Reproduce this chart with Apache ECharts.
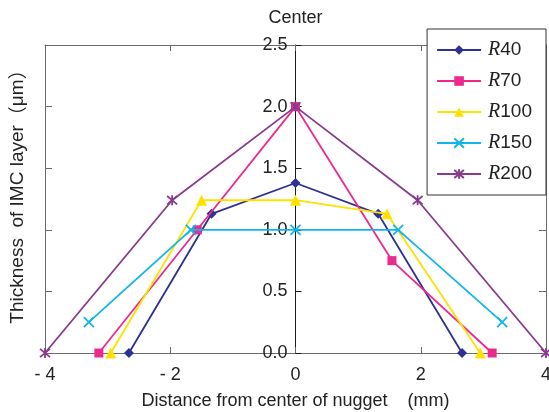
<!DOCTYPE html>
<html>
<head>
<meta charset="utf-8">
<script src="https://cdn.jsdelivr.net/npm/echarts@6/dist/echarts.min.js"></script>
<style>
  html, body { margin: 0; padding: 0; background: #fff; }
  #chart { width: 549px; height: 412px; }
</style>
</head>
<body>
<div id="chart"></div>
<script>
// Measured IMC layer thickness (µm) vs. distance from nugget centre (mm)
const seriesNames = ['R40', 'R70', 'R100', 'R150', 'R200'];

const r40X = [-2.66, -1.34, 0, 1.32, 2.66];
const r40Y = [0, 1.13, 1.38, 1.13, 0];

const r70X = [-3.14, -1.57, 0, 1.54, 3.14];
const r70Y = [0, 1.0, 2.0, 0.75, 0];

const r100X = [-2.95, -1.50, 0, 1.46, 2.95];
const r100Y = [0, 1.24, 1.24, 1.13, 0];

const r150X = [-3.3, -1.67, 0, 1.64, 3.3];
const r150Y = [0.25, 1.0, 1.0, 1.0, 0.25];

const r200X = [-4, -1.97, 0, 1.95, 4];
const r200Y = [0, 1.24, 2.0, 1.24, 0];

const xTickValues = [-4, -2, 0, 2, 4];
const xTickLabels = ['- 4', '- 2', '0', '2', '4'];
const yTickLabels = ['0.0', '0.5', '1.0', '1.5', '2.0', '2.5'];

const yTitleText = 'Thickness  of IMC layer';
const yTitleUnit = 'μm';
const xTitle = 'Distance from center of nugget    (mm)';

const colors = ['#2e3192', '#ec2a8e', '#ffe100', '#12b5ea', '#8a3a8e'];
const symbols = [
  'diamond',
  'rect',
  'triangle',
  'path://M0,0L10,10M10,0L0,10',
  'path://M0,0L10,10M10,0L0,10M5,-1L5,11'
];
const symbolSizes = [10, 9, 11, 10, 10];
const strokeSymbol = [false, false, false, true, true];

const xs = [r40X, r70X, r100X, r150X, r200X];
const ys = [r40Y, r70Y, r100Y, r150Y, r200Y];

const FONT = '"Liberation Sans", Arial, sans-serif';
const CJK_FONT = '"Noto Sans CJK SC", "Noto Sans CJK JP", sans-serif';
const frameColor = '#6b6b6b';

// plot box geometry
const PLOT_LEFT = 45, PLOT_RIGHT = 3, PLOT_TOP = 45, PLOT_BOTTOM = 59;
const CHART_W = 549;
const centerX = PLOT_LEFT + (CHART_W - PLOT_LEFT - PLOT_RIGHT) / 2;

function pairs(xArr, yArr) {
  return xArr.map((x, i) => [x, yArr[i]]);
}

const series = seriesNames.map((name, k) => ({
  name: name,
  type: 'line',
  xAxisIndex: 0,
  yAxisIndex: 0,
  data: pairs(xs[k], ys[k]),
  symbol: symbols[k],
  symbolSize: symbolSizes[k],
  showAllSymbol: true,
  lineStyle: { color: colors[k], width: 1.8 },
  itemStyle: strokeSymbol[k]
    ? { color: colors[k], borderColor: colors[k], borderWidth: 1.8 }
    : { color: colors[k], borderWidth: 0 },
  emphasis: { disabled: true },
  z: 3 + k
}));

const yBase = {
  type: 'value',
  min: 0,
  max: 2.5,
  interval: 0.5,
  splitLine: { show: false }
};

const gridBox = {
  top: PLOT_TOP,
  bottom: PLOT_BOTTOM,
  right: PLOT_RIGHT,
  containLabel: false,
  outerBoundsMode: 'none'
};

const chart = echarts.init(document.getElementById('chart'), null, { renderer: 'canvas' });
chart.setOption({
  animation: false,
  backgroundColor: '#ffffff',
  textStyle: { fontFamily: FONT },
  grid: [
    Object.assign({ left: PLOT_LEFT }, gridBox),
    // right half: carries the vertical axis through x = 0
    Object.assign({ left: centerX }, gridBox)
  ],
  graphic: [
    {
      type: 'text',
      x: 18,
      y: 192,
      rotation: Math.PI / 2,
      silent: true,
      style: {
        text: '{a|' + yTitleText + '}{p|（}{a|' + yTitleUnit + '}{p|）}',
        align: 'center',
        verticalAlign: 'middle',
        rich: {
          a: { fontFamily: FONT, fontSize: 19, fill: '#222', lineHeight: 22 },
          p: { fontFamily: CJK_FONT, fontSize: 19, fill: '#222', lineHeight: 22 }
        }
      }
    }
  ],
  legend: {
    orient: 'vertical',
    right: 3,
    top: 29,
    data: seriesNames,
    itemWidth: 44,
    itemHeight: 12,
    itemGap: 11,
    padding: [11, 14, 11, 9],
    backgroundColor: '#ffffff',
    borderColor: '#333333',
    borderWidth: 1,
    borderRadius: 0,
    formatter: name => '{i|R}{n|' + name.slice(1) + '}',
    textStyle: {
      rich: {
        i: { fontFamily: '"Liberation Serif", "DejaVu Serif", serif', fontStyle: 'italic', fontSize: 20, color: '#222', lineHeight: 18, padding: [0, 0, 0, 2] },
        n: { fontFamily: FONT, fontSize: 19, color: '#222', lineHeight: 18 }
      }
    }
  },
  xAxis: [
    {
      type: 'value',
      gridIndex: 0,
      position: 'bottom',
      min: -4,
      max: 4,
      interval: 2,
      name: xTitle,
      nameLocation: 'middle',
      nameGap: 39,
      nameTextStyle: { fontFamily: FONT, fontSize: 18, color: '#222' },
      axisLine: { onZero: false, lineStyle: { color: frameColor, width: 1 } },
      axisTick: { inside: true, length: 6, lineStyle: { color: frameColor } },
      axisLabel: {
        margin: 13,
        fontFamily: FONT,
        fontSize: 18,
        color: '#222',
        formatter: v => xTickLabels[xTickValues.indexOf(Math.round(v))]
      },
      splitLine: { show: false }
    },
    {
      type: 'value',
      gridIndex: 0,
      position: 'top',
      min: -4,
      max: 4,
      interval: 2,
      name: 'Center',
      nameLocation: 'middle',
      nameGap: 18,
      nameTextStyle: { fontFamily: FONT, fontSize: 18, color: '#222' },
      axisLine: { onZero: false, lineStyle: { color: frameColor, width: 1 } },
      axisTick: { inside: true, length: 6, lineStyle: { color: frameColor } },
      axisLabel: { show: false },
      splitLine: { show: false }
    },
    {
      type: 'value',
      gridIndex: 1,
      min: 0,
      max: 4,
      show: false
    }
  ],
  yAxis: [
    Object.assign({}, yBase, {
      gridIndex: 0,
      position: 'left',
      axisLine: { show: true, onZero: false, lineStyle: { color: frameColor, width: 1 } },
      axisTick: { show: true, inside: true, length: 7, lineStyle: { color: frameColor } },
      axisLabel: { show: false }
    }),
    Object.assign({}, yBase, {
      gridIndex: 0,
      position: 'right',
      axisLine: { show: true, onZero: false, lineStyle: { color: frameColor, width: 1 } },
      axisTick: { show: true, inside: true, length: 7, lineStyle: { color: frameColor } },
      axisLabel: { show: false }
    }),
    Object.assign({}, yBase, {
      gridIndex: 1,
      position: 'left',
      axisLine: { show: true, onZero: false, lineStyle: { color: '#1a1a1a', width: 1 } },
      axisTick: { show: true, inside: true, length: 6, lineStyle: { color: '#1a1a1a' } },
      axisLabel: {
        margin: 8,
        fontFamily: FONT,
        fontSize: 18,
        color: '#222',
        formatter: v => yTickLabels[Math.round(v * 2)]
      }
    })
  ],
  series: series
});
</script>
</body>
</html>
